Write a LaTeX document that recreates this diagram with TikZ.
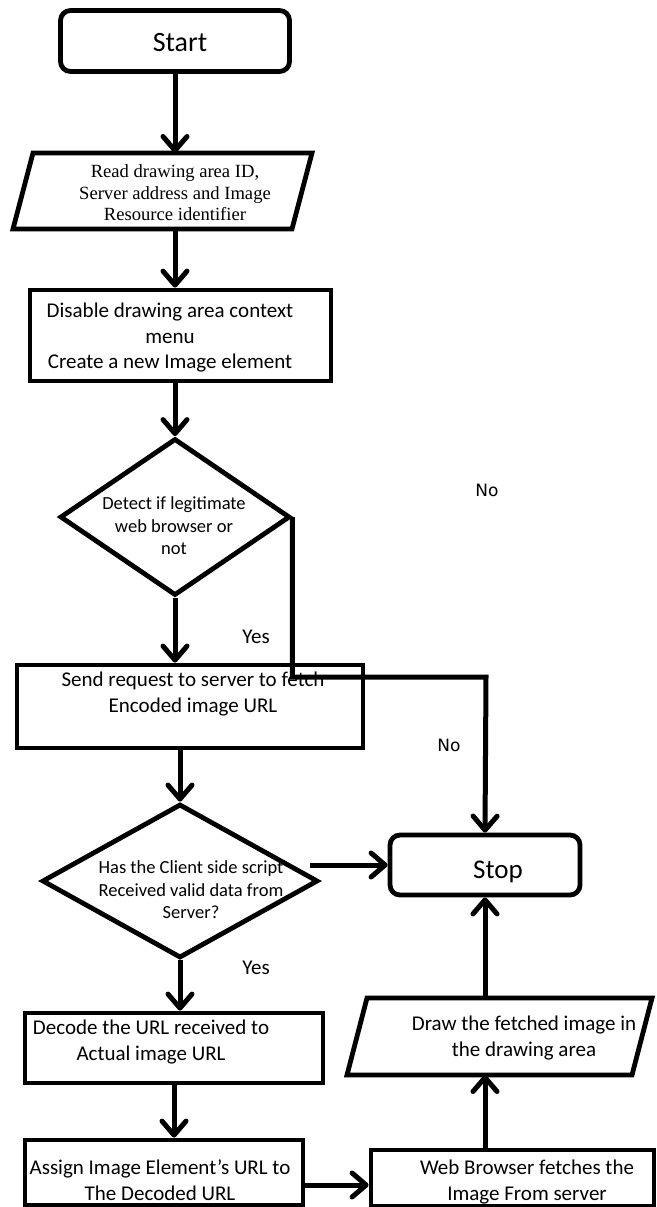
\documentclass[tikz,border=0pt]{standalone}
\usepackage{fontspec}
\setmainfont{Carlito}
\newfontfamily\timesf{Liberation Serif}
\newfontfamily\dvsans{DejaVu Sans}
\usetikzlibrary{arrows.meta,shapes.geometric}
\begin{document}
\begin{tikzpicture}[x=1pt,y=-1pt,
  shp/.style={draw=black, line width=4.8pt, inner sep=0pt},
  ghost/.style={inner sep=0pt, outer sep=0pt},
  txt/.style={align=center, inner sep=0pt, font=\fontsize{21}{25.5}\selectfont},
  dtxt/.style={align=center, inner sep=0pt, font=\fontsize{18.5}{22.5}\selectfont},
  lbl/.style={inner sep=0pt, font=\fontsize{21}{25}\selectfont},
  nolbl/.style={inner sep=0pt, font=\dvsans\fontsize{17}{20}\selectfont},
  arr/.style={line width=5pt, -{Straight Barb[length=14pt,width=24pt,round]}}]
\useasboundingbox (0,0) rectangle (656,1207);
\fill[white] (0,0) rectangle (656,1207);

% Start
\node[shp, rounded corners=10pt, minimum width=229pt, minimum height=61pt] (start) at (175,41) {};
\node[inner sep=0pt, font=\fontsize{28}{32}\selectfont] (starttxt) at (180,43) {Start};

% input parallelogram
\node[ghost, minimum width=299pt, minimum height=76pt] (p1) at (162.5,191) {};
\draw[line width=4.8pt] ([xshift=20pt]p1.north west) -- (p1.north east) -- ([xshift=-20pt]p1.south east) -- (p1.south west) -- cycle;
\node[align=center, inner sep=0pt, font=\timesf\fontsize{18.6}{21.5}\selectfont] (p1t) at (175,193) {Read drawing area ID,\\Server address and Image\\Resource identifier};

% rect 1
\node[shp, minimum width=301pt, minimum height=91pt] (r1) at (180.5,335.5) {};
\node[txt] (r1t) at (170,338) {Disable drawing area context\\menu\\Create a new Image element};

% diamond 1
\node[shp, diamond, minimum width=230pt, minimum height=157pt] (d1) at (175,517) {};
\node[dtxt] (d1t) at (174,526) {Detect if legitimate\\web browser or\\not};

% send request
\node[shp, minimum width=346pt, minimum height=83pt] (send) at (190,706.5) {};
\node[txt] (sendt) at (193,694) {Send request to server to fetch\\Encoded image URL};

% diamond 2
\node[shp, diamond, minimum width=276pt, minimum height=154pt] (d2) at (180,881) {};
\node[dtxt] (d2t) at (191,890) {Has the Client side script\\Received valid data from\\Server?};

% stop
\node[shp, rounded corners=10pt, minimum width=190pt, minimum height=60pt] (stop) at (485,865) {};
\node[inner sep=0pt, font=\fontsize{27}{31}\selectfont] (stopt) at (498,872) {Stop};

% decode
\node[shp, minimum width=298pt, minimum height=70pt] (dec) at (174,1048) {};
\node[txt] (dect) at (151,1042) {Decode the URL received to\\Actual image URL};

% assign
\node[shp, minimum width=278pt, minimum height=65pt] (asg) at (164,1172.5) {};
\node[txt] (asgt) at (160,1180) {Assign Image Element’s URL to\\The Decoded URL};

% web browser
\node[shp, minimum width=283pt, minimum height=56pt] (web) at (512.5,1178) {};
\node[txt] (webt) at (527,1182) {Web Browser fetches the\\Image From server};

% output parallelogram
\node[ghost, minimum width=305pt, minimum height=77pt] (p2) at (499.5,1036.5) {};
\draw[line width=4.8pt] ([xshift=20pt]p2.north west) -- (p2.north east) -- ([xshift=-20pt]p2.south east) -- (p2.south west) -- cycle;
\node[txt] (p2t) at (524,1038) {Draw the fetched image in\\the drawing area};

% labels
\node[lbl] (yes1) at (256,637) {Yes};
\node[lbl] (yes2) at (256,968) {Yes};
\node[nolbl] (no1) at (487,490) {No};
\node[nolbl] (no2) at (449,745) {No};

% connectors
\coordinate (bend) at (486,677);
\coordinate (d2out) at (310,865);
\draw[arr] (start.south) -- (start.south |- p1.north);
\draw[arr] (start.south |- p1.south) -- (start.south |- r1.north);
\draw[arr] (d1.north |- r1.south) -- (d1.north);
\draw[arr] (d1.south) -- (d1.south |- send.north);
\draw[arr] (d1.east) |- (bend) -- (stop.north);
\draw[arr] (d2.north |- send.south) -- (d2.north);
\draw[arr] (d2out) -- (stop.west);
\draw[arr] (d2.south) -- (d2.south |- dec.north);
\draw[arr] (dec.south) -- (dec.south |- asg.north);
\draw[arr] ([yshift=-12.5pt]asg.east) -- ([yshift=-12.5pt]asg.east -| web.west);
\draw[arr] (stop.south |- web.north) -- (stop.south |- p2.south);
\draw[arr] (stop.south |- p2.north) -- (stop.south);
\end{tikzpicture}
\end{document}
